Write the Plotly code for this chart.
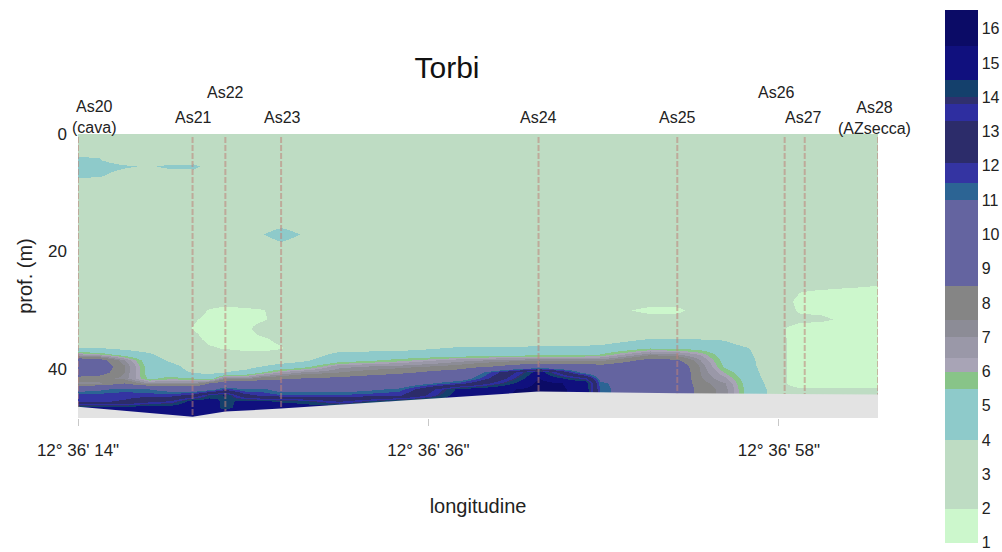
import plotly.graph_objects as go

# ---------------- data ----------------
stations = ["As20", "As21", "As22", "As23", "As24", "As25", "As26", "As27", "As28"]
station_sub = ["(cava)", "", "", "", "", "", "", "", "(AZsecca)"]
# longitude, seconds after 12° 36'
station_lon = [14.0, 21.19, 23.25, 26.75, 42.91, 51.62, 58.36, 59.62, 64.22]
# sea-bed depth (m) at each station
station_bottom = [46.5, 48.2, 47.3, 46.8, 43.9, 44.2, 44.3, 44.3, 44.4]

# grid of the interpolated section (longitude seconds x depth m)
grid_lon = [14.0, 15.33, 16.90, 18.47, 19.86, 21.19, 22.24, 23.25, 24.44, 25.57,
            26.75, 28.02, 30.41, 34.18, 37.95, 42.91, 45.80, 46.74, 49.88, 51.62,
            53.02, 54.59, 56.04, 57.23, 58.36, 59.30, 60.56, 62.44, 64.22]
grid_depth = [0.5, 4.5, 5.5, 7, 8.5, 15.5, 17, 18.5, 25, 27, 28.5, 30, 31.5, 33,
              35, 36.5, 37.5, 38.5, 39.5, 40.5, 41.5, 42.5, 43.5, 44.5, 45.5,
              46.5, 47.5, 48.4]

conc = [
    # 0.5
    [3.0, 3.0, 3.0, 3.0, 3.0, 3.0, 3.0, 3.0, 3.0, 3.0, 3.0, 3.0, 3.0, 3.0, 3.0, 3.0, 3.0, 3.0, 3.0, 3.0, 3.0, 3.0, 3.0, 3.0, 3.0, 3.0, 3.0, 3.0, 3.0],
    # 4.5
    [4.2, 4.1, 3.2, 3.0, 3.0, 3.0, 3.0, 3.0, 3.0, 3.0, 3.0, 3.0, 3.0, 3.0, 3.0, 3.0, 3.0, 3.0, 3.0, 3.0, 3.0, 3.0, 3.0, 3.0, 3.0, 3.0, 3.0, 3.0, 3.0],
    # 5.5
    [5.0, 4.7, 4.2, 3.8, 4.4, 4.5, 3.2, 3.0, 3.0, 3.0, 3.0, 3.0, 3.0, 3.0, 3.0, 3.0, 3.0, 3.0, 3.0, 3.0, 3.0, 3.0, 3.0, 3.0, 3.0, 3.0, 3.0, 3.0, 3.0],
    # 7
    [4.4, 4.2, 3.3, 3.0, 3.0, 3.0, 3.0, 3.0, 3.0, 3.0, 3.0, 3.0, 3.0, 3.0, 3.0, 3.0, 3.0, 3.0, 3.0, 3.0, 3.0, 3.0, 3.0, 3.0, 3.0, 3.0, 3.0, 3.0, 3.0],
    # 8.5
    [3.0, 3.0, 3.0, 3.0, 3.0, 3.0, 3.0, 3.0, 3.0, 3.0, 3.0, 3.0, 3.0, 3.0, 3.0, 3.0, 3.0, 3.0, 3.0, 3.0, 3.0, 3.0, 3.0, 3.0, 3.0, 3.0, 3.0, 3.0, 3.0],
    # 15.5
    [3.0, 3.0, 3.0, 3.0, 3.0, 3.0, 3.0, 3.0, 3.0, 3.0, 3.6, 3.0, 3.0, 3.0, 3.0, 3.0, 3.0, 3.0, 3.0, 3.0, 3.0, 3.0, 3.0, 3.0, 3.0, 3.0, 3.0, 3.0, 3.0],
    # 17
    [3.0, 3.0, 3.0, 3.0, 3.0, 3.0, 3.0, 3.0, 3.0, 3.9, 5.0, 3.9, 3.0, 3.0, 3.0, 3.0, 3.0, 3.0, 3.0, 3.0, 3.0, 3.0, 3.0, 3.0, 3.0, 3.0, 3.0, 3.0, 3.0],
    # 18.5
    [3.0, 3.0, 3.0, 3.0, 3.0, 3.0, 3.0, 3.0, 3.0, 3.0, 3.8, 3.0, 3.0, 3.0, 3.0, 3.0, 3.0, 3.0, 3.0, 3.0, 3.0, 3.0, 3.0, 3.0, 3.0, 3.0, 3.0, 3.0, 3.0],
    # 25
    [3.0, 3.0, 3.0, 3.0, 3.0, 3.0, 3.0, 3.0, 3.0, 3.0, 3.0, 3.0, 3.0, 3.0, 3.0, 3.0, 3.0, 3.0, 3.0, 3.0, 3.0, 3.0, 3.0, 3.0, 3.0, 3.0, 3.0, 2.7, 2.3],
    # 27
    [3.0, 3.0, 3.0, 3.0, 3.0, 3.0, 3.0, 3.0, 3.0, 3.0, 3.0, 3.0, 3.0, 3.0, 3.0, 3.0, 3.0, 3.0, 3.0, 3.0, 3.0, 3.0, 3.0, 3.0, 2.6, 2.0, 1.7, 1.5, 1.5],
    # 28.5
    [3.0, 3.0, 3.0, 3.0, 3.0, 3.0, 3.0, 2.6, 3.0, 3.0, 3.0, 3.0, 3.0, 3.0, 3.0, 3.0, 3.0, 3.0, 3.0, 3.0, 3.0, 3.0, 3.0, 3.0, 2.4, 1.6, 1.5, 1.4, 1.4],
    # 30
    [3.0, 3.0, 3.0, 3.0, 3.0, 3.0, 1.8, 1.5, 1.6, 1.9, 2.6, 3.0, 3.0, 3.0, 3.0, 3.0, 3.0, 3.0, 1.4, 1.5, 3.0, 3.0, 3.0, 3.0, 2.5, 1.8, 1.8, 1.5, 1.4],
    # 31.5
    [3.0, 3.0, 3.0, 3.0, 3.0, 2.2, 1.5, 1.4, 1.5, 1.8, 2.6, 3.0, 3.0, 3.0, 3.0, 3.0, 3.0, 3.0, 3.0, 3.0, 3.0, 3.0, 3.0, 3.0, 2.5, 2.3, 2.2, 1.7, 1.4],
    # 33
    [3.0, 3.0, 3.0, 3.0, 3.0, 1.9, 1.4, 1.4, 1.6, 2.6, 2.8, 3.0, 3.0, 3.0, 3.0, 3.0, 3.0, 3.0, 3.0, 3.0, 3.0, 3.0, 3.0, 3.0, 2.0, 1.5, 1.5, 1.4, 1.4],
    # 35
    [3.0, 3.0, 3.0, 3.0, 3.0, 2.5, 1.6, 1.5, 1.6, 1.8, 2.3, 3.0, 3.0, 3.0, 3.0, 3.0, 3.1, 3.2, 4.1, 4.0, 4.0, 3.9, 3.2, 3.0, 2.05, 1.4, 1.4, 1.4, 1.4],
    # 36.5
    [4.0, 4.1, 3.7, 3.3, 3.0, 3.0, 2.2, 1.9, 1.7, 1.6, 1.9, 3.0, 3.4, 3.6, 4.2, 4.3, 4.4, 4.5, 5.5, 5.4, 5.2, 4.6, 4.05, 3.0, 2.05, 1.4, 1.4, 1.4, 1.4],
    # 37.5
    [6.5, 6.0, 5.0, 4.2, 3.2, 3.0, 3.0, 2.8, 2.4, 2.4, 2.8, 3.1, 4.4, 4.6, 4.8, 5.2, 5.3, 5.5, 7.3, 7.0, 6.3, 4.9, 4.3, 3.0, 2.05, 1.4, 1.4, 1.4, 1.4],
    # 38.5
    [9.6, 9.2, 7.0, 4.8, 3.7, 3.0, 3.0, 3.0, 3.0, 3.0, 3.3, 3.7, 5.0, 5.8, 6.8, 7.5, 7.4, 7.3, 9.0, 8.7, 7.0, 5.1, 4.5, 3.1, 2.05, 1.4, 1.4, 1.4, 1.4],
    # 39.5
    [9.9, 9.6, 7.6, 5.0, 4.5, 3.3, 3.1, 3.2, 3.3, 4.0, 4.6, 5.0, 6.8, 7.2, 7.8, 9.5, 9.3, 9.0, 9.8, 9.6, 7.4, 5.3, 4.6, 3.2, 2.05, 1.4, 1.4, 1.4, 1.4],
    # 40.5
    [9.6, 9.2, 7.5, 5.0, 4.7, 3.9, 3.6, 4.0, 4.5, 5.5, 6.5, 7.0, 7.5, 8.2, 9.3, 15.0, 10.5, 9.8, 9.9, 9.8, 7.5, 5.9, 4.8, 3.4, 2.05, 1.4, 1.4, 1.4, 1.4],
    # 41.5
    [8.0, 7.8, 7.3, 5.3, 5.8, 5.5, 4.8, 7.5, 7.0, 8.0, 8.2, 8.5, 8.8, 9.6, 10.2, 15.5, 13.5, 10.6, 9.9, 9.8, 7.6, 6.5, 4.9, 3.6, 2.05, 1.4, 1.4, 1.4, 1.4],
    # 42.5
    [7.3, 7.4, 8.5, 7.0, 7.2, 7.0, 8.5, 9.5, 9.5, 9.8, 9.7, 9.8, 9.8, 10.0, 11.8, 15.8, 15.2, 11.2, 9.9, 9.8, 7.8, 7.0, 5.0, 3.8, 2.05, 1.4, 1.4, 1.4, 1.4],
    # 43.5
    [10.5, 10.8, 11.3, 11.0, 10.5, 10.0, 10.5, 11.8, 11.0, 11.2, 10.5, 10.5, 10.4, 11.2, 14.8, 15.8, 15.3, 11.3, 9.9, 9.8, 8.0, 7.2, 5.1, 3.95, 2.3, 2.2, 2.2, 2.2, 2.2],
    # 44.5
    [11.8, 11.8, 11.8, 11.8, 11.8, 12.5, 14.0, 14.6, 12.5, 11.9, 11.6, 11.6, 11.6, 12.0, 15.0, 15.8, 15.3, 11.3, 9.9, 9.8, 8.0, 7.2, 5.1, 3.95, 2.6, 2.6, 2.6, 2.6, 2.6],
    # 45.5
    [12.0, 12.0, 12.2, 13.0, 13.4, 15.0, 15.0, 14.2, 14.8, 14.6, 14.4, 14.2, 13.2, 14.8, 15.0, 15.8, 15.3, 11.3, 9.9, 9.8, 8.0, 7.2, 5.1, 3.95, 2.6, 2.6, 2.6, 2.6, 2.6],
    # 46.5
    [14.8, 14.8, 14.8, 15.0, 15.0, 15.2, 15.0, 14.2, 15.0, 15.0, 15.0, 15.0, 15.0, 15.0, 15.0, 15.8, 15.3, 11.3, 9.9, 9.8, 8.0, 7.2, 5.1, 3.95, 2.6, 2.6, 2.6, 2.6, 2.6],
    # 47.5
    [15.0, 15.0, 15.0, 15.0, 15.0, 15.5, 15.0, 15.0, 15.0, 15.0, 15.0, 15.0, 15.0, 15.0, 15.0, 15.8, 15.3, 11.3, 9.9, 9.8, 8.0, 7.2, 5.1, 3.95, 2.6, 2.6, 2.6, 2.6, 2.6],
    # 48.4
    [15.0, 15.0, 15.0, 15.0, 15.0, 15.5, 15.0, 15.0, 15.0, 15.0, 15.0, 15.0, 15.0, 15.0, 15.0, 15.8, 15.3, 11.3, 9.9, 9.8, 8.0, 7.2, 5.1, 3.95, 2.6, 2.6, 2.6, 2.6, 2.6],
]

# colour classes of the legend bar
band_edges = [1.0, 2.0, 4.0, 5.5, 6.0, 6.4, 7.0, 7.5, 8.5, 11.0, 11.5, 12.1,
              13.3, 13.8, 14.0, 14.5, 15.5, 16.55]
band_colors = ["#ccf7cc", "#bedcc3", "#8ecaca", "#88c488", "#a8a4b6", "#9a98a8",
               "#8c8c96", "#858585", "#6464a0", "#2c6494", "#3434a2", "#2c2c6a",
               "#2e2ea0", "#30306e", "#14406c", "#10107e", "#0b0b66"]
cbar_ticks = [1, 2, 3, 4, 5, 6, 7, 8, 9, 10, 11, 12, 13, 14, 15, 16]
lon_ticks = [14, 36, 58]
depth_ticks = [0, 20, 40]
depth_max = 48.4
data_top = 0.5

# ---------------- figure ----------------
FONT = "Liberation Sans, Arial, sans-serif"
zmin, zmax = band_edges[0], band_edges[-1]
colorscale = []
for i, col in enumerate(band_colors):
    a = (band_edges[i] - zmin) / (zmax - zmin)
    b = (band_edges[i + 1] - zmin) / (zmax - zmin)
    colorscale.append([a, col])
    colorscale.append([b, col])
colorscale[0][0] = 0.0
colorscale[-1][0] = 1.0

fig = go.Figure()
fig.add_trace(go.Heatmap(
    x=grid_lon, y=grid_depth, z=conc, zsmooth="best",
    colorscale=colorscale, zmin=zmin, zmax=zmax, hoverinfo="skip",
    colorbar=dict(
        x=(945 - 78) / 800, xanchor="left", y=(418.3 - 276.5) / 284.3,
        yanchor="middle", len=533, lenmode="pixels", thickness=33,
        thicknessmode="pixels", xpad=0, ypad=0, outlinewidth=0,
        tickvals=cbar_ticks, ticks="", tickfont=dict(family=FONT, size=16, color="#222"),
    ),
))

# sea bed (blanked area)
fig.add_trace(go.Scatter(
    x=station_lon + [station_lon[-1], station_lon[0]],
    y=station_bottom + [depth_max, depth_max],
    fill="toself", fillcolor="#e3e3e3", mode="lines", line=dict(width=0),
    hoverinfo="skip", showlegend=False,
))

# station verticals
lx, ly = [], []
for s, b in zip(station_lon, station_bottom):
    lx += [s, s, None]
    ly += [data_top, b, None]
fig.add_trace(go.Scatter(
    x=lx, y=ly, mode="lines", hoverinfo="skip", showlegend=False,
    line=dict(color="rgba(190,130,120,0.55)", width=2, dash="6px,2px"),
))

# station labels
label_rise = [17.5, 17, 42, 17, 17, 17, 42, 17, 16.5]
label_shift = [16, 1, 0, 1, 0, 0, -8, -1, -4]
for name, sub, s, r, dx in zip(stations, station_sub, station_lon, label_rise, label_shift):
    txt = name + ("<br>" + sub if sub else "")
    fig.add_annotation(x=s, y=1, xref="x", yref="paper", text=txt, showarrow=False,
                       yanchor="middle", xanchor="center", yshift=r, xshift=dx,
                       font=dict(family=FONT, size=16, color="#222"))

fig.update_layout(
    width=1002, height=552,
    margin=dict(l=78, r=124, t=134, b=134, autoexpand=False),
    paper_bgcolor="white", plot_bgcolor="white",
    showlegend=False,
    title=dict(text="Torbi", x=(447 - 78) / 800, xref="paper", xanchor="center",
               y=1 - 67 / 552, yref="container", yanchor="middle",
               font=dict(family=FONT, size=30, color="#111")),
    xaxis=dict(range=[station_lon[0], station_lon[-1]], tickvals=lon_ticks,
               ticktext=[f"12° 36' {t}\"" for t in lon_ticks],
               ticks="outside", ticklen=7, tickcolor="#c8c8c8", ticklabelstandoff=10,
               tickfont=dict(family=FONT, size=17, color="#222"),
               showgrid=False, zeroline=False, showline=False,
               title=dict(text="longitudine", standoff=39,
                          font=dict(family=FONT, size=20, color="#222"))),
    yaxis=dict(range=[depth_max, 0], tickvals=depth_ticks, ticks="",
               ticklabelstandoff=10,
               tickfont=dict(family=FONT, size=17, color="#222"),
               showgrid=False, zeroline=False, showline=False,
               title=dict(text="prof. (m)", standoff=10,
                          font=dict(family=FONT, size=20, color="#222"))),
)

fig.write_html("out.html", config={"displayModeBar": False},
               post_script="document.body.style.margin='0px';")
